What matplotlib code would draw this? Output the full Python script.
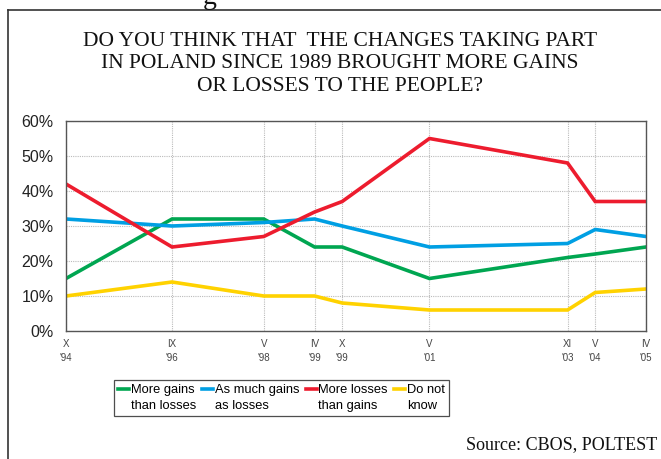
import matplotlib
matplotlib.use('Agg')
import matplotlib.pyplot as plt
from matplotlib.lines import Line2D
from matplotlib.legend_handler import HandlerLine2D

# survey waves (month, year) placed on a continuous time axis
wave_pos = [1994.79, 1996.71, 1998.37, 1999.29, 1999.79, 2001.37, 2003.87, 2004.37, 2005.29]
wave_labels = ["X\n'94", "IX\n'96", "V\n'98", "IV\n'99", "X\n'99", "V\n'01", "XI\n'03", "V\n'04", "IV\n'05"]

more_gains = [15, 32, 32, 24, 24, 15, 21, 22, 24]
equal_gains = [32, 30, 31, 32, 30, 24, 25, 29, 27]
more_losses = [42, 24, 27, 34, 37, 55, 48, 37, 37]
dont_know = [10, 14, 10, 10, 8, 6, 6, 11, 12]

series = [
    (more_gains, 'More gains\nthan losses', '#00a651'),
    (equal_gains, 'As much gains\nas losses', '#009fe3'),
    (more_losses, 'More losses\nthan gains', '#ed1c2e'),
    (dont_know, 'Do not\nknow', '#ffd200'),
]


class TopLineHandler(HandlerLine2D):
    """Legend swatch lined up with the first line of a two-line label."""
    def create_artists(self, legend, orig_handle, xdescent, ydescent,
                       width, height, fontsize, trans):
        artists = super().create_artists(legend, orig_handle, xdescent, ydescent,
                                         width, height, fontsize, trans)
        for a in artists:
            a.set_ydata([y + fontsize * 0.72 for y in a.get_ydata()])
        return artists


W, H = 661, 459
fig = plt.figure(figsize=(W / 100, H / 100), dpi=100)
ax = fig.add_axes([66 / W, 1 - 331 / H, (646 - 66) / W, (331 - 121) / H])

for vals, label, color in series:
    ax.plot(wave_pos, vals, color=color, lw=2.6, label=label, solid_joinstyle='miter')

ax.set_xlim(wave_pos[0], wave_pos[-1])
ax.set_ylim(0, 60)
ax.set_yticks(range(0, 61, 10))
ax.set_yticklabels([f'{v}%' for v in range(0, 61, 10)], fontsize=11.5,
                   family='Liberation Sans', color='#222222')
ax.set_xticks(wave_pos)
ax.set_xticklabels(wave_labels, fontsize=7, family='Liberation Sans',
                   color='#444444', linespacing=1.5)
ax.tick_params(axis='y', length=0, pad=9)
ax.tick_params(axis='x', length=0, pad=6)
ax.grid(True, color='#bbbbbb', linestyle=(0, (1, 1)), lw=0.8)
for s in ax.spines.values():
    s.set_color('#555555')
    s.set_linewidth(1.0)

leg = ax.legend(loc='upper center', bbox_to_anchor=((281.5 - 66) / 580, -0.235), ncol=4,
                frameon=True, fancybox=False, edgecolor='#222222',
                prop={'family': 'Liberation Sans', 'size': 9.3},
                handlelength=0.85, handletextpad=0.12, columnspacing=0.5,
                borderpad=0.3, borderaxespad=0,
                handler_map={Line2D: TopLineHandler()})
leg.get_frame().set_linewidth(0.9)
for h in leg.get_lines():
    h.set_linewidth(2.6)
for t in leg.get_texts():
    t.set_linespacing(1.4)

fig.text(340 / W, 1 - 64 / H,
         'DO YOU THINK THAT  THE CHANGES TAKING PART\n'
         'IN POLAND SINCE 1989 BROUGHT MORE GAINS\n'
         'OR LOSSES TO THE PEOPLE?',
         ha='center', va='center', fontsize=15.5, family='Liberation Serif',
         linespacing=1.28, color='#111111')
fig.text(657 / W, 1 - 445 / H, 'Source: CBOS, POLTEST', ha='right', va='center',
         fontsize=13, family='Liberation Serif', color='#111111')

# page frame around the figure
fig.add_artist(Line2D([8 / W, 8 / W], [0, 1 - 10 / H], color='#333333', lw=1.2))
fig.add_artist(Line2D([8 / W, 1], [1 - 10 / H, 1 - 10 / H], color='#333333', lw=1.2))
# tail of a heading above the frame
fig.text(203 / W, 1 + 3 / H, 'g', ha='left', va='center', fontsize=20,
         family='Liberation Serif', color='#111111')

fig.savefig('out.png', dpi=100)
